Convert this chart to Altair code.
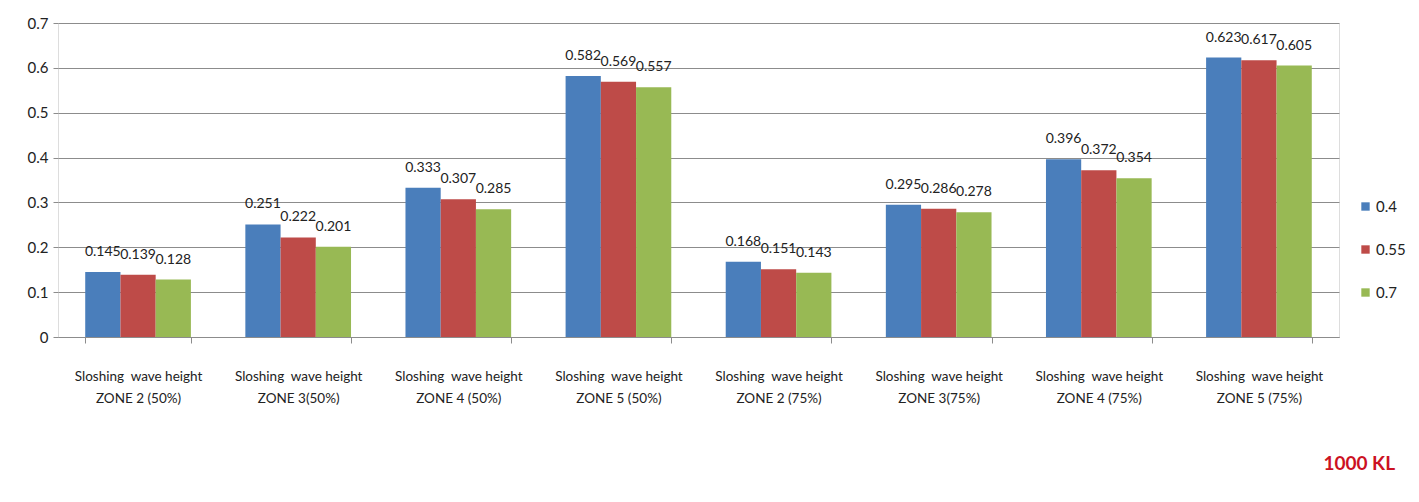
import altair as alt
import pandas as pd

# Sloshing wave height per zone and fill level, for three ratios
zones = ["ZONE 2 (50%)", "ZONE 3(50%)", "ZONE 4 (50%)", "ZONE 5 (50%)",
         "ZONE 2 (75%)", "ZONE 3(75%)", "ZONE 4 (75%)", "ZONE 5 (75%)"]
series = ["0.4", "0.55", "0.7"]
vals_04 = [0.145, 0.251, 0.333, 0.582, 0.168, 0.295, 0.396, 0.623]
vals_055 = [0.139, 0.222, 0.307, 0.569, 0.151, 0.286, 0.372, 0.617]
vals_07 = [0.128, 0.201, 0.285, 0.557, 0.143, 0.278, 0.354, 0.605]
colors = ["#4A7EBB", "#BE4B48", "#98B954"]

rows = []
for s, vals in zip(series, [vals_04, vals_055, vals_07]):
    for z, v in zip(zones, vals):
        rows.append({"zone": z, "ratio": s, "value": v})
df = pd.DataFrame(rows)

FONT = "Lato"
GRID = "#8C8C8C"

x_enc = alt.X(
    "zone:N", sort=zones, title=None,
    scale=alt.Scale(paddingInner=0.34, paddingOuter=0.17),
    axis=alt.Axis(
        labelAngle=0, tickBand="extent", tickSize=6, tickColor=GRID,
        domainColor=GRID, labelFont=FONT, labelFontSize=13.5, labelColor="#222222",
        labelPadding=26, labelLineHeight=22, labelFlush=False, labelBound=False,
        labelExpr="datum.value ? ['Sloshing\u00a0 wave height', datum.value] : ''",
    ),
)
y_enc = alt.Y(
    "value:Q", title=None,
    scale=alt.Scale(domain=[0, 0.7], nice=False),
    axis=alt.Axis(
        values=[0, 0.1, 0.2, 0.3, 0.4, 0.5, 0.6, 0.7], format=".1~f",
        domain=False, tickSize=5, tickColor=GRID, gridColor=GRID, gridOpacity=1,
        labelFont=FONT, labelFontSize=15, labelColor="#222222", labelPadding=5,
    ),
)
xoff = alt.XOffset("ratio:N", sort=series)

bars = alt.Chart(df).mark_bar().encode(
    x=x_enc, y=y_enc, xOffset=xoff,
    color=alt.Color(
        "ratio:N", sort=series, title=None,
        scale=alt.Scale(domain=series, range=colors),
        legend=alt.Legend(
            orient="none", legendX=1300, legendY=176, symbolType="square",
            symbolSize=70, symbolStrokeWidth=0, labelFont=FONT, labelFontSize=15,
            labelColor="#222222", rowPadding=27, labelOffset=3,
        ),
    ),
)

labels = alt.Chart(df).mark_text(
    baseline="bottom", dy=-13, font=FONT, fontSize=14, color="#222222"
).encode(
    x=alt.X("zone:N", sort=zones),
    y=alt.Y("value:Q"),
    xOffset=xoff,
    text=alt.Text("value:Q", format=".3f"),
)

chart = (
    alt.layer(bars, labels)
    .properties(
        width=1281, height=314,
        title=alt.Title(
            "1000 KL", orient="bottom", anchor="end", frame="group", align="right",
            dx=56, offset=50,
            font=FONT, fontSize=19, fontWeight="bold", color="#CC1122",
        ),
        autosize=alt.AutoSizeParams(type="none"),
        padding={"left": 58, "top": 23, "right": 80, "bottom": 165},
    )
    .configure_view(stroke=None)
    .configure(background="white")
)

chart.save("out.html", embed_options={"renderer": "svg", "actions": False})
